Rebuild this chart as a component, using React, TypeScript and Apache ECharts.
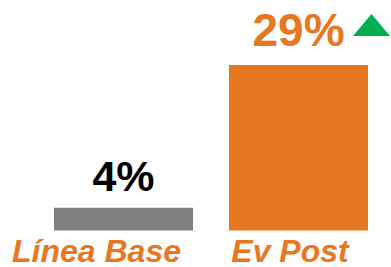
import React, { useEffect, useRef } from "react";
import * as echarts from "echarts";

const categories = ["Línea Base", "Ev Post"];
const values = [4, 29];
const valueLabels = ["4%", "29%"];
const barColors = ["#7F7F7F", "#E87722"];
const labelColors = ["#000000", "#E87722"];

export default function App() {
  const ref = useRef<HTMLDivElement>(null);
  useEffect(() => {
    if (!ref.current) return;
    const chart = echarts.init(ref.current, undefined, { renderer: "svg" });
    const font = '"Liberation Sans", Arial, sans-serif';
    chart.setOption({
      animation: false,
      grid: { left: 36, right: 5, top: 65, bottom: 36.5 },
      xAxis: {
        type: "category",
        data: categories,
        axisLine: { show: false },
        axisTick: { show: false },
        axisLabel: {
          margin: 4,
          interval: 0,
          formatter: (v: string, i: number) => (i === 0 ? `{a|${v}}` : `{b|${v}}`),
          rich: {
            a: { fontSize: 32, fontWeight: "bold", fontStyle: "italic", color: "#E87722", fontFamily: font, padding: [0, 54, 0, 0] },
            b: { fontSize: 32, fontWeight: "bold", fontStyle: "italic", color: "#E87722", fontFamily: font, padding: [0, 17, 0, 0] },
          },
        },
      },
      yAxis: {
        type: "value",
        min: 0,
        max: 29,
        show: false,
        splitLine: { show: false },
      },
      series: [
        {
          type: "bar",
          barWidth: 139,
          data: values.map((v, i) => ({
            value: v,
            itemStyle: { color: barColors[i] },
            label: {
              show: true,
              position: "top",
              distance: i === 0 ? 10 : 12,
              formatter: valueLabels[i],
              color: labelColors[i],
              fontSize: i === 0 ? 43 : 46,
              fontWeight: "bold",
              fontFamily: font,
            },
          })),
        },
      ],
      graphic: [
        {
          type: "polygon",
          shape: { points: [[353, 36], [371.5, 14], [390, 36]] },
          style: { fill: "#00B050" },
        },
      ],
    });
    return () => chart.dispose();
  }, []);
  return <div ref={ref} style={{ width: 391, height: 267, position: "absolute", left: 0, top: 0 }} />;
}
